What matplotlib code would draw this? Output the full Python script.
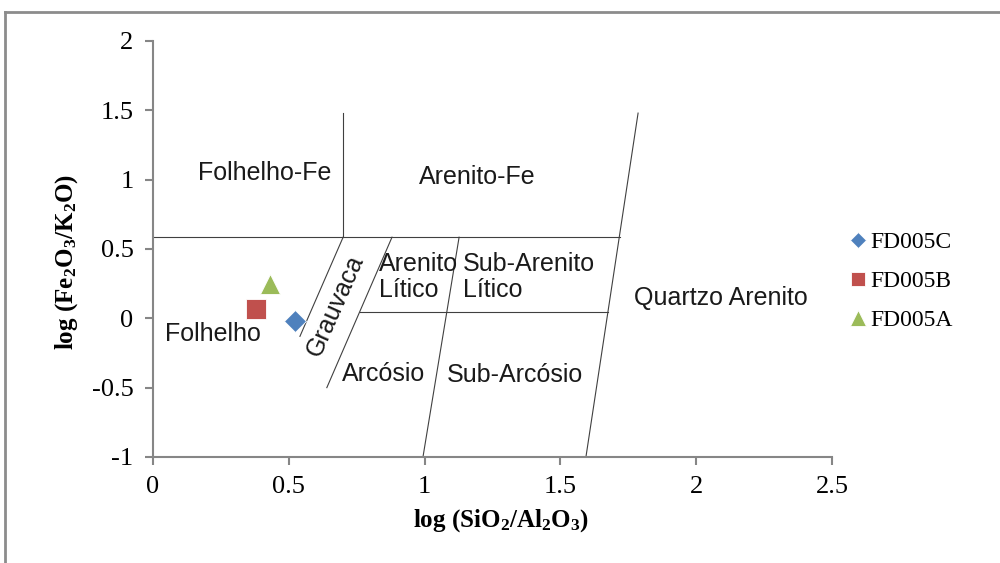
import matplotlib
matplotlib.use("Agg")
import matplotlib.pyplot as plt
from matplotlib.lines import Line2D

# amostras
samples = ["FD005C", "FD005B", "FD005A"]
sample_x = [0.523, 0.38, 0.43]
sample_y = [-0.02, 0.065, 0.25]
sample_markers = ["D", "s", "^"]
sample_colors = ["#4F81BD", "#C0504D", "#9BBB59"]
sample_sizes = [11, 14, 15]

# limites do diagrama de Herron (x0, x1, y0, y1)
bound_x = [(0.0, 1.72), (0.70, 0.70), (1.786, 1.594), (0.762, 1.675),
           (1.127, 0.994), (0.70, 0.541), (0.88, 0.64)]
bound_y = [(0.585, 0.585), (0.585, 1.48), (1.48, -1.0), (0.043, 0.043),
           (0.585, -1.0), (0.585, -0.13), (0.585, -0.5)]

# rótulos dos campos
field_names = ["Folhelho-Fe", "Arenito-Fe", "Folhelho", "Arenito\nLítico",
               "Sub-Arenito\nLítico", "Arcósio", "Sub-Arcósio", "Quartzo Arenito"]
field_x = [0.166, 0.98, 0.044, 0.832, 1.141, 0.696, 1.082, 1.771]
field_y = [1.047, 1.02, -0.115, 0.30, 0.30, -0.40, -0.41, 0.15]

xticks = [0, 0.5, 1, 1.5, 2, 2.5]
yticks = [-1, -0.5, 0, 0.5, 1, 1.5, 2]

plt.rcParams["mathtext.default"] = "regular"

fig = plt.figure(figsize=(10, 5.63), dpi=100)
ax = fig.add_axes([0.153, 0.1883, 0.679, 0.7389])

for xs, ys in zip(bound_x, bound_y):
    ax.plot(xs, ys, color="#404040", lw=0.8, zorder=1)

for name, x, y in zip(field_names, field_x, field_y):
    ax.text(x, y, name, fontsize=18, family="Liberation Sans", color="#1a1a1a",
            ha="left", va="center", linespacing=1.1)
ax.text(0.67, 0.09, "Grauvaca", fontsize=18, family="Liberation Sans",
        color="#1a1a1a", rotation=66, ha="center", va="center")

for s, x, y, m, c, ms in zip(samples, sample_x, sample_y, sample_markers,
                             sample_colors, sample_sizes):
    ax.plot(x, y, marker=m, color=c, markersize=ms, linestyle="none",
            markeredgecolor="white", markeredgewidth=0.6, label=s, zorder=3)

ax.set_xlim(0, 2.5)
ax.set_ylim(-1, 2)
ax.set_xticks(xticks)
ax.set_yticks(yticks)
ax.set_xticklabels([f"{t:g}" for t in xticks])
ax.set_yticklabels([f"{t:g}" for t in yticks])
ax.tick_params(direction="out", length=6, width=1.5, color="#868686",
               labelsize=19, pad=8)
for lab in ax.get_xticklabels() + ax.get_yticklabels():
    lab.set_family("Liberation Serif")
for side in ["top", "right"]:
    ax.spines[side].set_visible(False)
for side in ["left", "bottom"]:
    ax.spines[side].set_color("#868686")
    ax.spines[side].set_linewidth(1.5)

ax.set_xlabel("log (SiO$_2$/Al$_2$O$_3$)", fontsize=18, family="Liberation Serif",
              fontweight="bold")
ax.set_ylabel("log (Fe$_2$O$_3$/K$_2$O)", fontsize=18, family="Liberation Serif",
              fontweight="bold")
ax.xaxis.set_label_coords(0.513, -0.12)
ax.yaxis.set_label_coords(-0.108, 0.469)

leg = fig.legend(loc="center left", bbox_to_anchor=(0.83, 0.5), frameon=False,
                 prop={"family": "Liberation Serif", "size": 17},
                 handlelength=0.6, handletextpad=0.2, labelspacing=0.75,
                 markerscale=0.75)

# moldura cortada (topo e esquerda)
fig.add_artist(Line2D([0.005, 1.0], [0.979, 0.979], color="#8c8c8c", lw=2))
fig.add_artist(Line2D([0.005, 0.005], [0.0, 0.979], color="#8c8c8c", lw=2))

fig.savefig("out.png", dpi=100, facecolor="white")
